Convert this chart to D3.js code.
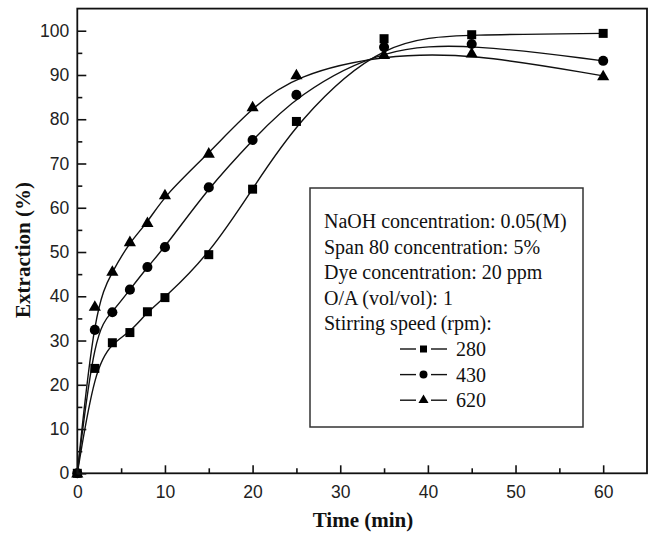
<!DOCTYPE html>
<html>
<head>
<meta charset="utf-8">
<script src="https://cdn.jsdelivr.net/npm/d3@7"></script>
<style>
  html, body { margin: 0; padding: 0; background: #fff; }
  svg { display: block; }
</style>
</head>
<body>
<svg id="chart" width="651" height="535"></svg>
<script>
// Extraction (%) vs. time (min) at three stirring speeds
const times = [0, 2, 4, 6, 8, 10, 15, 20, 25, 35, 45, 60];
const rpm280 = [0, 23.7, 29.5, 31.8, 36.5, 39.7, 49.4, 64.2, 79.5, 98.2, 99.1, 99.4];
const rpm430 = [0, 32.4, 36.4, 41.5, 46.6, 51.1, 64.6, 75.3, 85.5, 96.3, 97.0, 93.2];
const rpm620 = [0, 37.7, 45.6, 52.3, 56.6, 62.9, 72.3, 82.8, 90.0, 94.6, 94.9, 89.8];

const seriesNames = ["280", "430", "620"];
const seriesValues = [rpm280, rpm430, rpm620];
const seriesSymbols = [d3.symbolSquare, d3.symbolCircle, d3.symbolTriangle];

const xMajorTicks = [0, 10, 20, 30, 40, 50, 60];
const xMinorTicks = [5, 15, 25, 35, 45, 55];
const yMajorTicks = [0, 10, 20, 30, 40, 50, 60, 70, 80, 90, 100];
const yMinorTicks = [5, 15, 25, 35, 45, 55, 65, 75, 85, 95];

const conditionLines = [
  "NaOH concentration: 0.05(M)",
  "Span 80 concentration: 5%",
  "Dye concentration: 20 ppm",
  "O/A (vol/vol): 1",
  "Stirring speed (rpm):"
];

const svg = d3.select("#chart");
const plot = { left: 77.3, right: 647, top: 8.6, bottom: 473.3 };

const x = d3.scaleLinear().domain([0, 65]).range([plot.left, plot.right]);
const y = d3.scaleLinear().domain([0, 105]).range([plot.bottom, plot.top]);

const tickFont = "'Liberation Sans', Arial, sans-serif";
const serifFont = "'Liberation Serif', 'Times New Roman', serif";

// Curves: smoothing B-spline through the measured points
const line = d3.line()
  .x((d, i) => x(times[i]))
  .y(d => y(d))
  .curve(d3.curveBasis);

const curves = svg.append("g");
seriesValues.forEach(vals => {
  curves.append("path")
    .attr("d", line(vals))
    .attr("fill", "none")
    .attr("stroke", "#111")
    .attr("stroke-width", 1.4);
});

// Markers
const markerSizes = [81, 80, 64];
seriesValues.forEach((vals, s) => {
  const sym = d3.symbol().type(seriesSymbols[s]).size(markerSizes[s]);
  svg.append("g").selectAll("path")
    .data(vals)
    .join("path")
    .attr("d", sym)
    .attr("transform", (d, i) => {
      const dy = seriesSymbols[s] === d3.symbolTriangle ? 0.8 : 0;
      return `translate(${x(times[i])},${y(d) + dy})`;
    })
    .attr("fill", "#000");
});

// Axes with inward ticks
const gx = svg.append("g").attr("transform", `translate(0,${plot.bottom})`)
  .call(d3.axisBottom(x).tickValues(xMajorTicks).tickSizeInner(-8).tickSizeOuter(0).tickPadding(12).tickFormat(d3.format("d")));
const gxm = svg.append("g").attr("transform", `translate(0,${plot.bottom})`)
  .call(d3.axisBottom(x).tickValues(xMinorTicks).tickSizeInner(-5).tickSizeOuter(0).tickFormat(""));
const gy = svg.append("g").attr("transform", `translate(${plot.left},0)`)
  .call(d3.axisLeft(y).tickValues(yMajorTicks).tickSizeInner(-9).tickSizeOuter(0).tickPadding(8).tickFormat(d3.format("d")));
const gym = svg.append("g").attr("transform", `translate(${plot.left},0)`)
  .call(d3.axisLeft(y).tickValues(yMinorTicks).tickSizeInner(-5).tickSizeOuter(0).tickFormat(""));

[gx, gxm, gy, gym].forEach(g => {
  g.select(".domain").remove();
  g.selectAll(".tick line").attr("stroke", "#111").attr("stroke-width", 1.6);
  g.selectAll(".tick text")
    .attr("fill", "#222")
    .style("font-family", tickFont)
    .style("font-size", "17.5px");
});

// Frame
svg.append("rect")
  .attr("x", plot.left).attr("y", plot.top)
  .attr("width", plot.right - plot.left)
  .attr("height", plot.bottom - plot.top)
  .attr("fill", "none")
  .attr("stroke", "#111")
  .attr("stroke-width", 1.8);

// Axis titles
svg.append("text")
  .attr("x", 363).attr("y", 520)
  .attr("text-anchor", "middle")
  .attr("dominant-baseline", "central")
  .style("font-family", serifFont)
  .style("font-weight", "bold")
  .style("font-size", "21px")
  .attr("fill", "#111")
  .text("Time (min)");

svg.append("text")
  .attr("transform", "translate(23,250) rotate(-90)")
  .attr("text-anchor", "middle")
  .attr("dominant-baseline", "central")
  .style("font-family", serifFont)
  .style("font-weight", "bold")
  .style("font-size", "21px")
  .attr("fill", "#111")
  .text("Extraction (%)");

// Conditions and legend box
const box = svg.append("g");
box.append("rect")
  .attr("x", 310).attr("y", 188)
  .attr("width", 273).attr("height", 239)
  .attr("fill", "#fff")
  .attr("stroke", "#333")
  .attr("stroke-width", 1.5);

const rowY = i => 221 + i * 25.6;
conditionLines.forEach((t, i) => {
  box.append("text")
    .attr("x", 324).attr("y", rowY(i))
    .attr("dominant-baseline", "central")
    .style("font-family", serifFont)
    .style("font-size", "20px")
    .attr("fill", "#111")
    .text(t);
});

const legendSizes = [49, 50, 44];
seriesNames.forEach((name, s) => {
  const yy = rowY(conditionLines.length + s);
  [[400, 416], [431, 447]].forEach(([a, b]) => {
    box.append("line")
      .attr("x1", a).attr("x2", b)
      .attr("y1", yy).attr("y2", yy)
      .attr("stroke", "#111").attr("stroke-width", 1.4);
  });
  box.append("path")
    .attr("d", d3.symbol().type(seriesSymbols[s]).size(legendSizes[s])())
    .attr("transform", `translate(423.5,${yy})`)
    .attr("fill", "#000");
  box.append("text")
    .attr("x", 456).attr("y", yy)
    .attr("dominant-baseline", "central")
    .style("font-family", serifFont)
    .style("font-size", "20px")
    .attr("fill", "#111")
    .text(name);
});
</script>
</body>
</html>
